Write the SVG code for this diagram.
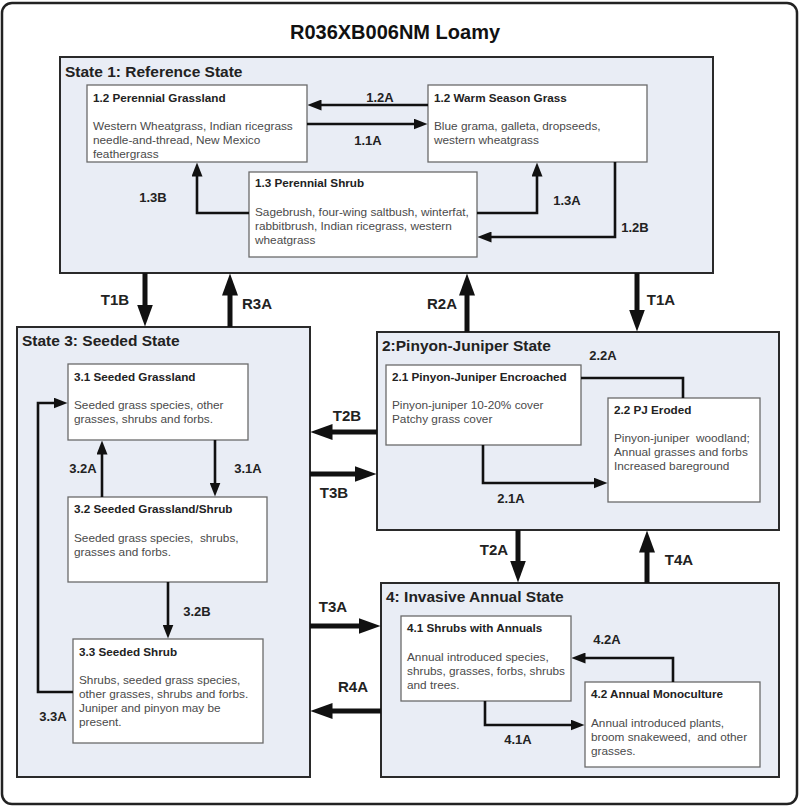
<svg xmlns="http://www.w3.org/2000/svg" width="800" height="807" viewBox="0 0 800 807">
<defs>
<style>
.frame{fill:#fff;stroke:#222;stroke-width:2.5}
.state{fill:#e9edf5;stroke:#2a2a2a;stroke-width:2}
.box{fill:#fff;stroke:#6a6a6a;stroke-width:1.3}
.title{font-family:"Liberation Sans",Arial,sans-serif;font-weight:bold;font-size:20px;fill:#111}
.stitle{font-family:"Liberation Sans",Arial,sans-serif;font-weight:bold;font-size:15.5px;fill:#222}
.btitle{font-family:"Liberation Sans",Arial,sans-serif;font-weight:bold;font-size:11.7px;fill:#222}
.body{font-family:"Liberation Sans",Arial,sans-serif;font-size:11.8px;fill:#4a4a4a;white-space:pre}
.lab{font-family:"Liberation Sans",Arial,sans-serif;font-weight:bold;font-size:13px;fill:#222;text-anchor:middle}
.tlab{font-family:"Liberation Sans",Arial,sans-serif;font-weight:bold;font-size:15px;fill:#222;text-anchor:middle}
.thin{fill:none;stroke:#111;stroke-width:2.6;marker-end:url(#ah)}
.plain{fill:none;stroke:#111;stroke-width:2.6}
.thick{fill:none;stroke:#111;stroke-width:5;marker-end:url(#ahT)}
</style>
<marker id="ah" viewBox="0 0 14 11" refX="0.5" refY="5.5" markerWidth="14" markerHeight="11" markerUnits="userSpaceOnUse" orient="auto">
<path d="M0,0 L14,5.5 L0,11 Z" fill="#111"/>
</marker>
<marker id="ahT" viewBox="0 0 22 16" refX="0.5" refY="8" markerWidth="22" markerHeight="16" markerUnits="userSpaceOnUse" orient="auto">
<path d="M0,0 L22,8 L0,16 Z" fill="#111"/>
</marker>
</defs>

<rect class="frame" x="2" y="3" width="795" height="801" rx="10"/>
<text class="title" x="395" y="39" text-anchor="middle">R036XB006NM Loamy</text>

<g id="state1">
<rect class="state" x="60" y="57" width="653" height="216"/>
<text class="stitle" x="65" y="77">State 1: Reference State</text>
</g>
<g id="n1-2pg">
<rect class="box" x="87" y="85" width="220" height="77"/>
<text class="btitle" x="93" y="102">1.2 Perennial Grassland</text>
<text class="body" x="93" y="130">Western Wheatgrass, Indian ricegrass</text>
<text class="body" x="93" y="144">needle-and-thread, New Mexico</text>
<text class="body" x="93" y="158">feathergrass</text>
</g>
<g id="n1-2wsg">
<rect class="box" x="428" y="85" width="219" height="77"/>
<text class="btitle" x="434" y="102">1.2 Warm Season Grass</text>
<text class="body" x="434" y="130">Blue grama, galleta, dropseeds,</text>
<text class="body" x="434" y="144">western wheatgrass</text>
</g>
<g id="n1-3">
<rect class="box" x="249" y="172" width="228" height="85"/>
<text class="btitle" x="255" y="187">1.3 Perennial Shrub</text>
<text class="body" x="255" y="216">Sagebrush, four-wing saltbush, winterfat,</text>
<text class="body" x="255" y="230">rabbitbrush, Indian ricegrass, western</text>
<text class="body" x="255" y="244">wheatgrass</text>
</g>

<g id="state3">
<rect class="state" x="17" y="327" width="293" height="450"/>
<text class="stitle" x="22" y="346">State 3: Seeded State</text>
</g>
<g id="n3-1">
<rect class="box" x="68" y="364" width="180" height="76"/>
<text class="btitle" x="74" y="381">3.1 Seeded Grassland</text>
<text class="body" x="74" y="409">Seeded grass species, other</text>
<text class="body" x="74" y="423">grasses, shrubs and forbs.</text>
</g>
<g id="n3-2">
<rect class="box" x="68" y="497" width="199" height="85"/>
<text class="btitle" x="74" y="513">3.2 Seeded Grassland/Shrub</text>
<text class="body" x="74" y="542">Seeded grass species,  shrubs,</text>
<text class="body" x="74" y="556">grasses and forbs.</text>
</g>
<g id="n3-3">
<rect class="box" x="73" y="639" width="190" height="104"/>
<text class="btitle" x="79" y="656">3.3 Seeded Shrub</text>
<text class="body" x="79" y="684">Shrubs, seeded grass species,</text>
<text class="body" x="79" y="698">other grasses, shrubs and forbs.</text>
<text class="body" x="79" y="712">Juniper and pinyon may be</text>
<text class="body" x="79" y="726">present.</text>
</g>

<g id="state2">
<rect class="state" x="377" y="332" width="402" height="198"/>
<text class="stitle" x="382" y="351">2:Pinyon-Juniper State</text>
</g>
<g id="n2-1">
<rect class="box" x="386" y="365" width="195" height="80"/>
<text class="btitle" x="392" y="381">2.1 Pinyon-Juniper Encroached</text>
<text class="body" x="392" y="409">Pinyon-juniper 10-20% cover</text>
<text class="body" x="392" y="423">Patchy grass cover</text>
</g>
<g id="n2-2">
<rect class="box" x="608" y="398" width="152" height="104"/>
<text class="btitle" x="614" y="414">2.2 PJ Eroded</text>
<text class="body" x="614" y="442">Pinyon-juniper  woodland;</text>
<text class="body" x="614" y="456">Annual grasses and forbs</text>
<text class="body" x="614" y="470">Increased bareground</text>
</g>

<g id="state4">
<rect class="state" x="381" y="583" width="398" height="194"/>
<text class="stitle" x="386" y="602">4: Invasive Annual State</text>
</g>
<g id="n4-1">
<rect class="box" x="401" y="616" width="170" height="85"/>
<text class="btitle" x="407" y="632">4.1 Shrubs with Annuals</text>
<text class="body" x="407" y="661">Annual introduced species,</text>
<text class="body" x="407" y="675">shrubs, grasses, forbs, shrubs</text>
<text class="body" x="407" y="689">and trees.</text>
</g>
<g id="n4-2">
<rect class="box" x="585" y="682" width="175" height="85"/>
<text class="btitle" x="591" y="698">4.2 Annual Monoculture</text>
<text class="body" x="591" y="727">Annual introduced plants,</text>
<text class="body" x="591" y="741">broom snakeweed,  and other</text>
<text class="body" x="591" y="755">grasses.</text>
</g>

<g id="connectors">
<path class="thin" d="M428,105 H321"/>
<path class="thin" d="M307,124 H414"/>
<path class="thin" d="M249,213 H197 V176"/>
<path class="thin" d="M477,213 H537 V176"/>
<path class="thin" d="M615,162 V237 H491"/>
<path class="thin" d="M215,440 V483"/>
<path class="thin" d="M102,497 V454"/>
<path class="thin" d="M168,582 V625"/>
<path class="thin" d="M73,692 H38 V403 H54"/>
<path class="plain" d="M581,378 H683 V398"/>
<path class="thin" d="M483,445 V483 H594"/>
<path class="thin" d="M673,682 V658 H585"/>
<path class="thin" d="M485,701 V725 H571"/>
<path class="thick" d="M145,273 V305"/>
<path class="thick" d="M230,327 V295"/>
<path class="thick" d="M467,332 V295"/>
<path class="thick" d="M637,273 V310"/>
<path class="thick" d="M377,432 H332"/>
<path class="thick" d="M310,474 H355"/>
<path class="thick" d="M518,530 V561"/>
<path class="thick" d="M647,583 V552"/>
<path class="thick" d="M310,626 H359"/>
<path class="thick" d="M381,711 H332"/>
<text class="lab" x="380" y="101.5">1.2A</text>
<text class="lab" x="368" y="145">1.1A</text>
<text class="lab" x="153" y="201.5">1.3B</text>
<text class="lab" x="567" y="204.5">1.3A</text>
<text class="lab" x="635" y="231.5">1.2B</text>
<text class="lab" x="248" y="472.5">3.1A</text>
<text class="lab" x="83" y="472.5">3.2A</text>
<text class="lab" x="197" y="615.5">3.2B</text>
<text class="lab" x="53" y="720.5">3.3A</text>
<text class="lab" x="603" y="359.5">2.2A</text>
<text class="lab" x="511" y="502.5">2.1A</text>
<text class="lab" x="607" y="643.5">4.2A</text>
<text class="lab" x="518" y="743.5">4.1A</text>
<text class="tlab" x="115" y="304.5">T1B</text>
<text class="tlab" x="257" y="308.5">R3A</text>
<text class="tlab" x="442" y="308.5">R2A</text>
<text class="tlab" x="661" y="304.5">T1A</text>
<text class="tlab" x="347" y="421">T2B</text>
<text class="tlab" x="334" y="498">T3B</text>
<text class="tlab" x="494" y="555">T2A</text>
<text class="tlab" x="679" y="565">T4A</text>
<text class="tlab" x="333" y="612">T3A</text>
<text class="tlab" x="353" y="692">R4A</text>
</g>
</svg>
